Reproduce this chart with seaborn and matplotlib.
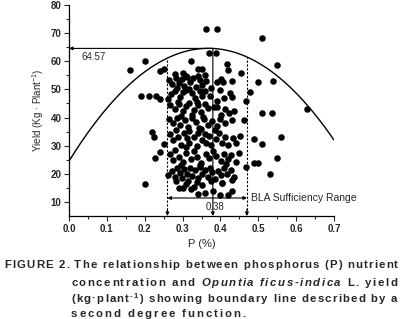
import numpy as np
import seaborn as sns
import matplotlib
matplotlib.use("Agg")
import matplotlib.pyplot as plt
from matplotlib import font_manager as fm
from matplotlib.ft2font import FT2Font

# P concentration (%) and yield (kg/plant)
p_pct = [
    # top / outliers
    0.160, 0.200, 0.361, 0.390, 0.511, 0.550, 0.630,
    # 55-63
    0.279, 0.300, 0.323, 0.340, 0.352, 0.371, 0.389, 0.418, 0.421, 0.241, 0.252, 0.310, 0.360, 0.455,
    # 50-55
    0.265, 0.272, 0.283, 0.290, 0.298, 0.305, 0.312, 0.320, 0.328, 0.335, 0.345, 0.352, 0.362, 0.375,
    0.391, 0.402, 0.406, 0.431, 0.500, 0.540, 0.285, 0.318, 0.342,
    # 45-50
    0.190, 0.210, 0.230, 0.240, 0.262, 0.270, 0.280, 0.292, 0.301, 0.310, 0.325, 0.334, 0.346, 0.351,
    0.360, 0.372, 0.398, 0.410, 0.424, 0.430, 0.392, 0.477, 0.468, 0.288, 0.338,
    # 40-45
    0.268, 0.279, 0.290, 0.300, 0.309, 0.318, 0.330, 0.340, 0.348, 0.358, 0.368, 0.384, 0.392, 0.411,
    0.422, 0.436, 0.510, 0.537, 0.296, 0.326, 0.355, 0.402,
    # 35-40
    0.264, 0.274, 0.286, 0.294, 0.306, 0.315, 0.324, 0.336, 0.344, 0.356, 0.366, 0.378, 0.391, 0.400,
    0.412, 0.430, 0.463, 0.220, 0.282, 0.318, 0.349, 0.385,
    # 29.5-35
    0.224, 0.250, 0.268, 0.276, 0.289, 0.296, 0.303, 0.311, 0.316, 0.331, 0.337, 0.341, 0.352, 0.363,
    0.371, 0.376, 0.388, 0.396, 0.404, 0.413, 0.421, 0.433, 0.442, 0.451, 0.490, 0.510, 0.560, 0.358, 0.308,
    # 23-29.5
    0.226, 0.240, 0.266, 0.274, 0.281, 0.291, 0.300, 0.309, 0.321, 0.330, 0.339, 0.350, 0.361, 0.370,
    0.381, 0.389, 0.401, 0.410, 0.420, 0.429, 0.441, 0.449, 0.468, 0.490, 0.500, 0.550, 0.295, 0.345, 0.415,
    # 17-23
    0.262, 0.271, 0.279, 0.286, 0.292, 0.299, 0.305, 0.312, 0.319, 0.326, 0.332, 0.340, 0.346, 0.352,
    0.360, 0.366, 0.372, 0.379, 0.386, 0.393, 0.401, 0.409, 0.418, 0.428, 0.437, 0.530, 0.282, 0.315,
    0.338, 0.375, 0.405, 0.430,
    # 12-17
    0.290, 0.300, 0.310, 0.322, 0.330, 0.340, 0.352, 0.380, 0.398, 0.405, 0.420, 0.431, 0.360, 0.200,
]
yield_kg = [
    56.8, 60.1, 71.5, 71.5, 68.2, 58.7, 43.0,
    55.5, 55.8, 60.1, 57.2, 57.2, 62.8, 62.8, 58.9, 56.9, 56.5, 57.3, 54.9, 55.0, 55.7,
    53.5, 51.8, 54.0, 52.2, 53.6, 51.2, 54.3, 52.6, 53.9, 50.8, 53.4, 51.7, 52.9, 50.5,
    52.5, 53.7, 52.8, 53.0, 52.5, 53.0, 50.4, 50.2, 54.6,
    47.8, 47.8, 47.8, 46.5, 46.6, 48.2, 49.5, 47.4, 48.9, 49.8, 48.8, 46.9, 49.6, 47.7,
    49.3, 47.5, 49.8, 47.1, 48.8, 47.2, 45.9, 49.0, 46.0, 45.4, 45.6,
    44.4, 42.9, 44.9, 42.4, 44.0, 45.3, 42.8, 44.6, 41.9, 44.9, 43.4, 43.7, 43.7, 43.2,
    41.6, 42.4, 41.5, 41.5, 40.6, 40.9, 40.3, 41.0,
    39.4, 37.9, 39.8, 37.4, 39.1, 36.8, 40.0, 38.5, 36.4, 39.4, 37.5, 38.9, 37.1, 39.6,
    38.0, 39.0, 39.0, 35.0, 35.6, 35.3, 35.8, 35.5,
    33.2, 30.6, 34.1, 32.0, 33.1, 30.4, 34.4, 32.6, 30.9, 33.0, 29.8, 34.6, 32.1, 31.0,
    33.6, 30.3, 32.2, 34.4, 30.9, 33.1, 30.1, 32.6, 30.9, 33.3, 32.3, 30.6, 33.2, 34.2, 29.6,
    25.6, 27.8, 27.0, 24.9, 28.6, 26.0, 24.1, 27.4, 25.2, 28.1, 26.1, 24.0, 27.1, 25.5,
    28.0, 26.4, 24.4, 27.0, 25.1, 26.6, 24.2, 27.4, 22.5, 24.0, 24.0, 25.5, 23.3, 23.1, 23.5,
    19.6, 21.0, 19.0, 22.0, 20.2, 18.4, 21.6, 20.0, 22.1, 19.1, 21.2, 18.5, 22.4, 20.1,
    21.5, 19.0, 22.0, 20.5, 18.1, 21.1, 19.5, 22.0, 20.1, 21.4, 19.0, 19.8, 17.3, 17.6,
    17.0, 17.5, 16.8, 17.8,
    15.0, 15.0, 16.5, 14.5, 15.3, 12.8, 16.0, 14.0, 12.5, 16.8, 12.5, 14.0, 13.2, 16.4,
]

# boundary line: y = b0 + b1*x + b2*x^2
b0, b1, b2 = 24.5, 217.9, -296.0
y_max = 64.57
p_opt = 0.38
p_low, p_high = 0.26, 0.47

sns.set_style("ticks")
plt.rcParams["font.family"] = ["Liberation Sans", "DejaVu Sans"]
plt.rcParams["mathtext.fontset"] = "custom"
plt.rcParams["mathtext.rm"] = "Liberation Sans"
plt.rcParams["mathtext.it"] = "Liberation Sans:italic"

W, H, DPI = 400, 319, 100
fig = plt.figure(figsize=(W / DPI, H / DPI), dpi=DPI)
ax = fig.add_axes([69 / W, 103 / H, 265 / W, 211 / H])

sns.scatterplot(x=p_pct, y=yield_kg, color="black", s=22, linewidth=0, ax=ax, zorder=3)

xs = np.linspace(0, 0.7, 200)
sns.lineplot(x=xs, y=b0 + b1 * xs + b2 * xs ** 2, color="black", lw=1.0, ax=ax)

ax.set_xlim(0, 0.7)
ax.set_ylim(5, 80)
ax.set_xticks(np.arange(0, 0.71, 0.1))
ax.set_xticks(np.arange(0.05, 0.7, 0.1), minor=True)
ax.set_yticks(np.arange(10, 81, 10))
ax.set_yticks(np.arange(15, 80, 10), minor=True)
ax.set_xticklabels([f"{v:.1f}" for v in np.arange(0, 0.71, 0.1)])
ax.tick_params(which="major", direction="out", length=3.5, width=0.8, labelsize=7, pad=2)
ax.tick_params(which="minor", direction="out", length=2, width=0.8)
for lbl in ax.get_xticklabels() + ax.get_yticklabels():
    lbl.set_fontweight("bold")
for side in ["top", "right"]:
    ax.spines[side].set_visible(False)
for side in ["left", "bottom"]:
    ax.spines[side].set_linewidth(0.9)
    ax.spines[side].set_color("black")

ax.set_xlabel("P (%)", fontsize=8, labelpad=4)
ax.set_ylabel("Yield (Kg · Plant$^{-1}$)", fontsize=7, labelpad=3)

arrow = dict(arrowstyle="-|>", color="black", lw=0.8, mutation_scale=5, shrinkA=0, shrinkB=0)
ax.annotate("", xy=(0, y_max), xytext=(p_opt, y_max), arrowprops=arrow, annotation_clip=False)
ax.annotate("", xy=(p_opt, 5), xytext=(p_opt, y_max), arrowprops=arrow, annotation_clip=False)
for xv in [p_low, p_high]:
    ax.plot([xv, xv], [7, b0 + b1 * xv + b2 * xv ** 2], color="black", lw=0.8,
            linestyle=(0, (2, 1.5)))
    ax.annotate("", xy=(xv, 5), xytext=(xv, 7.5), arrowprops=arrow, annotation_clip=False)
ax.annotate("", xy=(p_low, 11.4), xytext=(p_high, 11.4),
            arrowprops=dict(arrowstyle="<|-|>", color="black", lw=0.8, mutation_scale=5,
                            shrinkA=0, shrinkB=0))

ax.text(0.033, 61.4, "64.57", fontsize=7, va="center")
ax.text(0.386, 8.3, "0.38", fontsize=7, ha="center", va="center")
ax.text(0.48, 11.4, "BLA Sufficiency Range", fontsize=7.5, va="center")

# caption with letter spacing, drawn glyph by glyph
_fonts = {}


def advance_px(ch, prop):
    path = fm.findfont(prop)
    if path not in _fonts:
        _fonts[path] = FT2Font(path)
    f = _fonts[path]
    f.set_size(prop.get_size_in_points(), 72)
    g = f.load_char(ord(ch))
    return g.linearHoriAdvance / 65536.0 * DPI / 72


styles = {
    "b": dict(size=8.2, weight="bold", style="normal", dy=0),
    "bi": dict(size=8.2, weight="bold", style="italic", dy=0),
    "sup": dict(size=5.5, weight="bold", style="normal", dy=3.5),
}


def caption_line(segments, x0, base, x1=None, track=2.0):
    chars = [(c, s) for txt, s in segments for c in txt]
    items = []
    for c, s in chars:
        st = styles[s]
        prop = fm.FontProperties(family="Liberation Sans", size=st["size"],
                                 weight=st["weight"], style=st["style"])
        items.append((c, st, prop, advance_px(c, prop)))
    natural = sum(a for *_, a in items)
    if x1 is not None:
        track = (x1 - x0 - natural) / (len(items) - 1)
    x = x0
    for c, st, prop, a in items:
        if c != " ":
            fig.text(x / W, 1 - (base - st["dy"]) / H, c, fontproperties=prop, va="baseline")
        x += a + track


caption_line([("FIGURE 2. The relationship between phosphorus (P) nutrient", "b")], 4, 268.5, 398)
caption_line([("concentration and ", "b"), ("Opuntia ficus-indica", "bi"), (" L. yield", "b")],
             71, 285.5, 397)
caption_line([("(kg·plant", "b"), ("-1", "sup"), (") showing boundary line described by a", "b")],
             71, 301.5, 397)
caption_line([("second degree function.", "b")], 71, 317, track=1.9)

fig.savefig("out.png", dpi=DPI)
